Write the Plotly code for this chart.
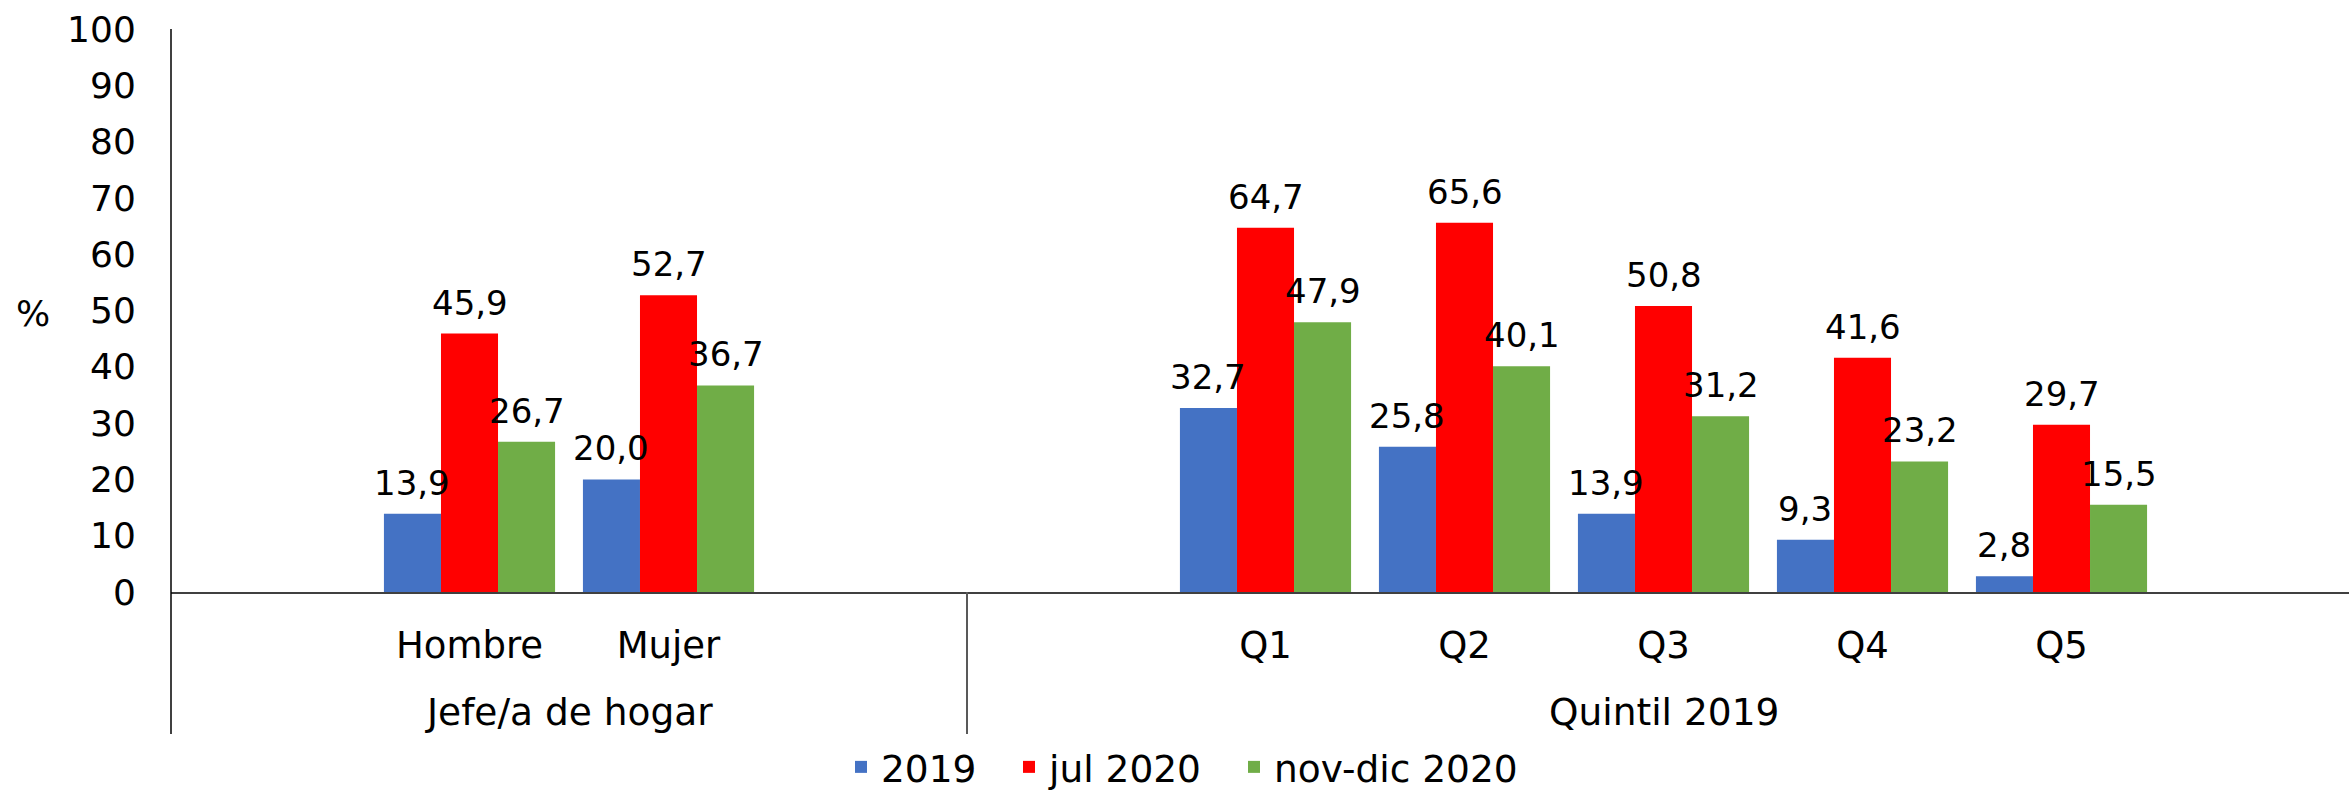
import plotly.graph_objects as go

categories = ["Hombre", "Mujer", "Q1", "Q2", "Q3", "Q4", "Q5"]
cat_pos = [1, 2, 5, 6, 7, 8, 9]
groups = ["Jefe/a de hogar", "Quintil 2019"]
group_pos = [1.5, 7]
series_names = ["2019", "jul 2020", "nov-dic 2020"]
v2019 = [13.9, 20.0, 32.7, 25.8, 13.9, 9.3, 2.8]
vjul2020 = [45.9, 52.7, 64.7, 65.6, 50.8, 41.6, 29.7]
vnovdic2020 = [26.7, 36.7, 47.9, 40.1, 31.2, 23.2, 15.5]
colors = ["#4472C4", "#FF0000", "#70AD47"]
legend_widths = [123, 180, None]
y_ticks = list(range(0, 101, 10))

FONT = "DejaVu Sans"

def fmt(v):
    return f"{v:.1f}".replace(".", ",")

W, H = 2349, 799
L, R, T, B = 171, 0, 29, 207
plot_w = W - L - R
plot_h = H - T - B
slot = 199.0
x_max = -0.5 + plot_w / slot
bargap = 0.14
bar_px = slot * (1 - bargap) / 3

fig = go.Figure()
all_vals = [v2019, vjul2020, vnovdic2020]
for k, (name, vals, col, lw) in enumerate(zip(series_names, all_vals, colors, legend_widths)):
    bar_kwargs = dict(x=cat_pos, y=vals, name=name, marker=dict(color=col, line=dict(width=0)))
    if lw is not None:
        bar_kwargs["legendwidth"] = lw
    fig.add_trace(go.Bar(**bar_kwargs))
    for xp, v in zip(cat_pos, vals):
        fig.add_annotation(x=xp, y=v, xref="x", yref="y", text=fmt(v), showarrow=False,
                           xanchor="center", yanchor="bottom",
                           xshift=(k - 1) * bar_px, yshift=9,
                           font=dict(family=FONT, size=34, color="#000000"))

fig.update_layout(
    width=W, height=H,
    margin=dict(l=L, r=R, t=T, b=B, pad=0, autoexpand=False),
    paper_bgcolor="white", plot_bgcolor="white",
    barmode="group", bargap=bargap, bargroupgap=0,
    font=dict(family=FONT, size=36, color="#000000"),
    showlegend=True,
    legend=dict(orientation="h", x=(841 - L) / plot_w, xanchor="left",
                y=(592 - 798) / plot_h, yanchor="bottom",
                font=dict(family=FONT, size=37.5, color="#000000"),
                bgcolor="rgba(0,0,0,0)", itemwidth=30, traceorder="normal"),
    xaxis=dict(range=[-0.5, x_max], tickvals=cat_pos, ticktext=categories,
               showgrid=False, zeroline=False, showline=True, linecolor="#404040", linewidth=2,
               ticks="outside", ticklen=20, tickcolor="rgba(0,0,0,0)", automargin=False,
               tickfont=dict(family=FONT, size=37, color="#000000")),
    yaxis=dict(range=[0, 100], tickvals=y_ticks, showgrid=False, zeroline=False, showline=False,
               ticks="outside", ticklen=27, tickcolor="rgba(0,0,0,0)", automargin=False,
               tickfont=dict(family=FONT, size=36, color="#000000")),
)

ext = (592 - 734) / plot_h
fig.add_shape(type="line", xref="paper", yref="paper", x0=0, x1=0, y0=ext, y1=1,
              line=dict(color="#000000", width=1.5))
fig.add_shape(type="line", xref="x", yref="paper", x0=3.5, x1=3.5, y0=ext, y1=0,
              line=dict(color="#595959", width=2))

for g, gp in zip(groups, group_pos):
    fig.add_annotation(x=gp, xref="x", y=-0.213, yref="paper", text=g, showarrow=False,
                       xanchor="center", yanchor="middle",
                       font=dict(family=FONT, size=37.5, color="#000000"))

fig.add_annotation(x=-0.0634, xref="paper", y=0.494, yref="paper", text="%", showarrow=False,
                   xanchor="center", yanchor="middle",
                   font=dict(family=FONT, size=36, color="#000000"))

fig.write_html("out.html", config={"displayModeBar": False},
               post_script="document.body.style.margin='0';document.body.style.overflow='hidden';")
